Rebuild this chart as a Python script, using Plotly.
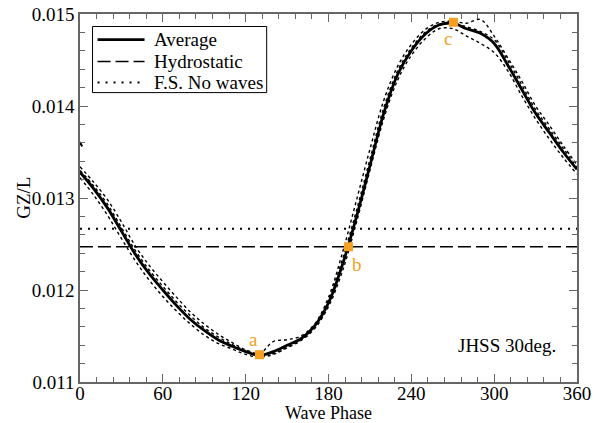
import plotly.graph_objects as go

phase = [0, 10, 20, 30, 40, 50, 60, 70, 80, 90, 100, 110, 120, 130, 140, 150, 160, 170, 180,
         190, 200, 210, 220, 230, 240, 250, 260, 270, 280, 290, 300, 310, 320, 330, 340, 350, 360]

average = [0.01328, 0.01310, 0.01289, 0.01264, 0.01239, 0.01218, 0.01200, 0.01183, 0.01168,
           0.01156, 0.01146, 0.01139, 0.01133, 0.01129, 0.01133, 0.01140, 0.01147, 0.01161,
           0.01186, 0.01227, 0.01278, 0.01335, 0.01392, 0.01434, 0.01460, 0.01478, 0.01488,
           0.01490, 0.01484, 0.01479, 0.01468, 0.01444, 0.01418, 0.01392, 0.01371, 0.01350, 0.01331]

run_upper = [0.01334, 0.01317, 0.01298, 0.01274, 0.01248, 0.01227, 0.01209, 0.01192, 0.01176,
             0.01163, 0.01152, 0.01143, 0.01135, 0.01131, 0.01144, 0.01146, 0.01150, 0.01163,
             0.01192, 0.01240, 0.01296, 0.01353, 0.01406, 0.01443, 0.01467, 0.01483, 0.01491,
             0.01492, 0.01490, 0.01494, 0.01476, 0.01452, 0.01427, 0.01400, 0.01379, 0.01357, 0.01336]

run_lower = [0.01322, 0.01303, 0.01281, 0.01256, 0.01232, 0.01211, 0.01193, 0.01177, 0.01163,
             0.01151, 0.01142, 0.01136, 0.01130, 0.01127, 0.01130, 0.01137, 0.01145, 0.01158,
             0.01182, 0.01220, 0.01272, 0.01330, 0.01386, 0.01428, 0.01455, 0.01473, 0.01484,
             0.01484, 0.01476, 0.01468, 0.01458, 0.01438, 0.01411, 0.01386, 0.01364, 0.01344, 0.01326]

run_mid = [0.01330, 0.01313, 0.01293, 0.01268, 0.01243, 0.01222, 0.01204, 0.01187, 0.01172,
           0.01159, 0.01149, 0.01141, 0.01134, 0.01130, 0.01131, 0.01138, 0.01146, 0.01160,
           0.01189, 0.01233, 0.01285, 0.01342, 0.01398, 0.01438, 0.01463, 0.01480, 0.01489,
           0.01489, 0.01486, 0.01481, 0.01472, 0.01449, 0.01423, 0.01396, 0.01375, 0.01354, 0.01333]

start_phase = [0, 1.5]
start_values = [0.01361, 0.01356]

hydrostatic = 0.01247
fs_no_waves = 0.012665

point_phase = [130, 194.5, 270.5]
point_values = [0.011297, 0.01247, 0.01491]
point_labels = ["a", "b", "c"]

x_ticks = [0, 60, 120, 180, 240, 300, 360]
y_ticks = [0.011, 0.012, 0.013, 0.014, 0.015]

legend_names = ["Average", "Hydrostatic", "F.S. No waves"]

SERIF = "Liberation Serif, Times New Roman, DejaVu Serif, serif"
ORANGE = "#F5A020"
AXIS = "#666666"
FS = 19

styles = {
    "Average": dict(color="black", width=2.8),
    "Hydrostatic": dict(color="black", width=1.5, dash="13px,5px"),
    "F.S. No waves": dict(color="black", width=2, dash="2px,6px"),
}

fig = go.Figure()

for vals in (run_upper, run_lower, run_mid):
    fig.add_trace(go.Scatter(x=phase, y=vals, mode="lines", line_shape="spline",
                             line=dict(color="black", width=1.4, dash="dot"),
                             showlegend=False, hoverinfo="skip"))
fig.add_trace(go.Scatter(x=start_phase, y=start_values, mode="lines",
                         line=dict(color="black", width=2), showlegend=False))

fig.add_trace(go.Scatter(x=phase, y=average, mode="lines", line_shape="spline",
                         line=styles["Average"], name="Average", showlegend=False))
fig.add_trace(go.Scatter(x=[0, 360], y=[hydrostatic, hydrostatic], mode="lines",
                         line=styles["Hydrostatic"], name="Hydrostatic", showlegend=False))
fig.add_trace(go.Scatter(x=[0, 360], y=[fs_no_waves, fs_no_waves], mode="lines",
                         line=styles["F.S. No waves"], name="F.S. No waves", showlegend=False))

fig.add_trace(go.Scatter(x=point_phase, y=point_values, mode="markers",
                         marker=dict(symbol="square", size=9, color=ORANGE),
                         showlegend=False))

label_offsets = [(-6, -15), (8, 18), (-5, 16)]
for px, py, lab, (dx, dy) in zip(point_phase, point_values, point_labels, label_offsets):
    fig.add_annotation(x=px, y=py, text=lab, showarrow=False, xshift=dx, yshift=-dy,
                       font=dict(family=SERIF, size=FS, color=ORANGE))

# legend box (drawn to match the reference geometry)
fig.add_shape(type="rect", xref="paper", yref="paper", x0=0.0252, x1=0.3756, y0=0.7864, y1=0.966,
              line=dict(color="black", width=1), fillcolor="white", layer="above")
row_y = [0.9306, 0.8707, 0.8136]
for name, ry in zip(legend_names, row_y):
    fig.add_shape(type="line", xref="paper", yref="paper", x0=0.0353, x1=0.1299, y0=ry, y1=ry,
                  line=styles[name], layer="above")
    fig.add_annotation(xref="paper", yref="paper", x=0.144, y=ry, xanchor="left", yanchor="middle",
                       text=name, showarrow=False,
                       font=dict(family=SERIF, size=FS, color="black"))

fig.add_annotation(xref="paper", yref="paper", x=0.962, y=0.10, xanchor="right", yanchor="middle",
                   text="JHSS 30deg.", showarrow=False,
                   font=dict(family=SERIF, size=FS, color="black"))

fig.add_annotation(xref="paper", yref="paper", x=0.5, y=-0.083, xanchor="center", yanchor="middle",
                   text="Wave Phase", showarrow=False, borderpad=0,
                   font=dict(family=SERIF, size=18, color="black"))
fig.add_annotation(xref="paper", yref="paper", x=-0.115, y=0.5, xanchor="center", yanchor="middle",
                   text="GZ/L", textangle=-90, showarrow=False,
                   font=dict(family=SERIF, size=FS, color="black"))

axis_common = dict(showline=True, linecolor=AXIS, linewidth=1.5, mirror="allticks",
                   ticks="inside", ticklen=8, tickcolor=AXIS, tickwidth=1.2,
                   showgrid=False, zeroline=False, automargin=False,
                   tickfont=dict(family=SERIF, size=FS, color="black"))

fig.update_xaxes(range=[0, 360], tickvals=x_ticks, ticklabelstandoff=-7,
                 minor=dict(ticks="inside", ticklen=5, dtick=12, tick0=0, tickcolor=AXIS, showgrid=False),
                 **axis_common)
fig.update_yaxes(range=[0.011, 0.015], tickvals=y_ticks, tickformat=".3f",
                 minor=dict(ticks="inside", ticklen=5, dtick=0.0002, tick0=0.011, tickcolor=AXIS, showgrid=False),
                 **axis_common)

fig.update_layout(
    width=601, height=423,
    margin=dict(l=80, r=24, t=14, b=41),
    plot_bgcolor="white", paper_bgcolor="white",
    showlegend=False,
)

fig.write_html("out.html", config={"displayModeBar": False},
               post_script="document.body.style.margin='0';")
